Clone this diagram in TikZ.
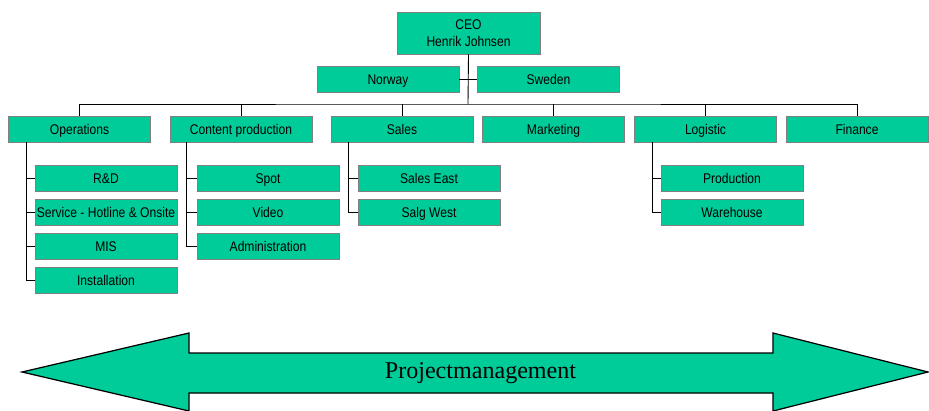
\documentclass[tikz,border=0pt]{standalone}
\usepackage{fontspec}
\setmainfont{Liberation Serif}
\newfontfamily\boxfont[FakeStretch=0.86]{Liberation Sans}
\usetikzlibrary{calc}
\definecolor{orggreen}{RGB}{0,204,153}
\tikzset{
  unit/.style={draw=gray, fill=orggreen, minimum width=2.84cm, minimum height=0.52cm,
    inner sep=0pt, text height=5.8pt, text depth=0pt, font=\boxfont\fontsize{8}{9.5}\selectfont},
  link/.style={draw=black, line width=0.5pt}
}

\begin{document}
\begin{tikzpicture}[x=0.02cm, y=-0.02cm]
\useasboundingbox (0,0) rectangle (929,410);

%top
\node[unit, align=center, text height={}, text depth={}, minimum width=2.86cm, minimum height=0.84cm] (ceo) at (468.5,33) {CEO\\Henrik Johnsen};
\node[unit] (norway) at (388,79) {Norway};
\node[unit] (sweden) at (548.5,79) {Sweden};
\coordinate (bus) at (468,104);

%departments
\node[unit] (ops) at (79.5,129) {Operations};
\node[unit] (cp) at (241,129) {Content production};
\node[unit] (sales) at (402,129) {Sales};
\node[unit] (mkt) at (553.5,129) {Marketing};
\node[unit] (log) at (705.5,129) {Logistic};
\node[unit] (fin) at (857,129) {Finance};

%sub units
\node[unit] (rd) at (106,178) {R\&D};
\node[unit] (service) at (106,212) {Service - Hotline \& Onsite};
\node[unit] (mis) at (106,246) {MIS};
\node[unit] (inst) at (106,280) {Installation};
\node[unit] (spot) at (268,178) {Spot};
\node[unit] (video) at (268,212) {Video};
\node[unit] (admin) at (268,246) {Administration};
\node[unit] (east) at (429,178) {Sales East};
\node[unit] (west) at (429,212) {Salg West};
\node[unit] (prod) at (732,178) {Production};
\node[unit] (ware) at (732,212) {Warehouse};

%lines
\draw[link] (ceo.south) -- (bus);
\draw[link] (norway.east) -- (sweden.west);
\draw[link] (ops.north) |- (bus) -| (fin.north);
\draw[link] (cp.north) -- (cp.north |- bus);
\draw[link] (sales.north) -- (sales.north |- bus);
\draw[link] (mkt.north) -- (mkt.north |- bus);
\draw[link] (log.north) -- (log.north |- bus);

\draw[link] ([xshift=0.36cm]ops.south west) |- (inst.west);
\draw[link] ([xshift=0.36cm]ops.south west) |- (rd.west);
\draw[link] ([xshift=0.36cm]ops.south west) |- (service.west);
\draw[link] ([xshift=0.36cm]ops.south west) |- (mis.west);
\draw[link] ([xshift=0.34cm]cp.south west) |- (admin.west);
\draw[link] ([xshift=0.34cm]cp.south west) |- (spot.west);
\draw[link] ([xshift=0.34cm]cp.south west) |- (video.west);
\draw[link] ([xshift=0.36cm]sales.south west) |- (west.west);
\draw[link] ([xshift=0.36cm]sales.south west) |- (east.west);
\draw[link] ([xshift=0.36cm]log.south west) |- (ware.west);
\draw[link] ([xshift=0.36cm]log.south west) |- (prod.west);

%arrow
\draw[fill=orggreen, line width=0.7pt] (22,372) -- (189,333) -- (189,353) -- (773,353) -- (773,333)
  -- (928,372) -- (773,411) -- (773,393) -- (189,393) -- (189,411) -- cycle;
\node[font=\fontsize{13.7}{16}\selectfont] (pm) at (480.5,373) {Projectmanagement};
\end{tikzpicture}
\end{document}
